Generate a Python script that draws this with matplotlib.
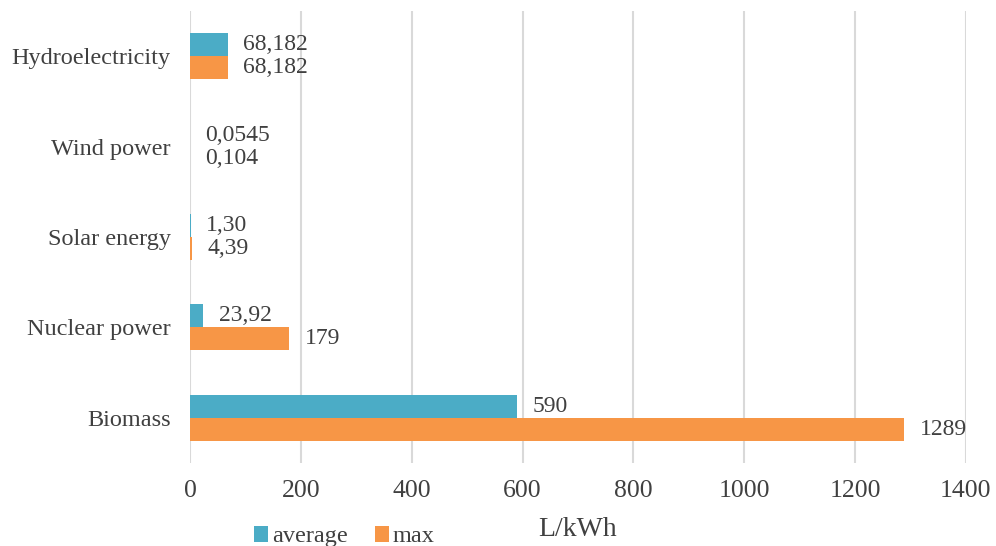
import matplotlib
matplotlib.use('Agg')
from matplotlib import pyplot as plt
import numpy as np

# data (L/kWh)
categories = ['Biomass', 'Nuclear power', 'Solar energy', 'Wind power', 'Hydroelectricity']
average = [590, 23.92, 1.30, 0.0545, 68.182]
maximum = [1289, 179, 4.39, 0.104, 68.182]
avg_labels = ['590', '23,92', '1,30', '0,0545', '68,182']
max_labels = ['1289', '179', '4,39', '0,104', '68,182']
xticks = [0, 200, 400, 600, 800, 1000, 1200, 1400]

plt.rcParams['font.family'] = ['Liberation Serif', 'DejaVu Serif']

fig = plt.figure(figsize=(9.96, 5.46), dpi=100)
ax = fig.add_axes([0.1908, 0.152, 0.779, 0.828])

y = np.arange(len(categories))
h = 0.255
b1 = ax.barh(y + h / 2, average, height=h, color='#4BACC6', label='average', zorder=3)
b2 = ax.barh(y - h / 2, maximum, height=h, color='#F79646', label='max', zorder=3)

# value labels
for bars, labels in ((b1, avg_labels), (b2, max_labels)):
    for rect, lab in zip(bars, labels):
        ax.annotate(lab, (rect.get_width(), rect.get_y() + rect.get_height() / 2),
                    xytext=(11, 0), textcoords='offset points', va='center', ha='left',
                    fontsize=17, color='#404040')

ax.set_xlim(0, 1400)
ax.set_ylim(-0.5, len(categories) - 0.5)
ax.set_xticks(xticks)
ax.set_yticks(y)
ax.set_yticklabels(categories)
ax.tick_params(axis='both', length=0, colors='#404040')
ax.tick_params(axis='y', pad=14, labelsize=17.5)
ax.tick_params(axis='x', pad=12, labelsize=18.5)
ax.grid(axis='x', color='#D9D9D9', linewidth=1.5, zorder=0)
for s in ax.spines.values():
    s.set_visible(False)

ax.set_xlabel('L/kWh', fontsize=20, color='#404040', labelpad=11)
ax.legend(loc='lower left', bbox_to_anchor=(0.054, -0.235), ncol=2, frameon=False,
          fontsize=17.5, handlelength=0.6, handleheight=0.6, handletextpad=0.15,
          columnspacing=1.1, labelcolor='#404040')

fig.savefig('out.png', dpi=100)
